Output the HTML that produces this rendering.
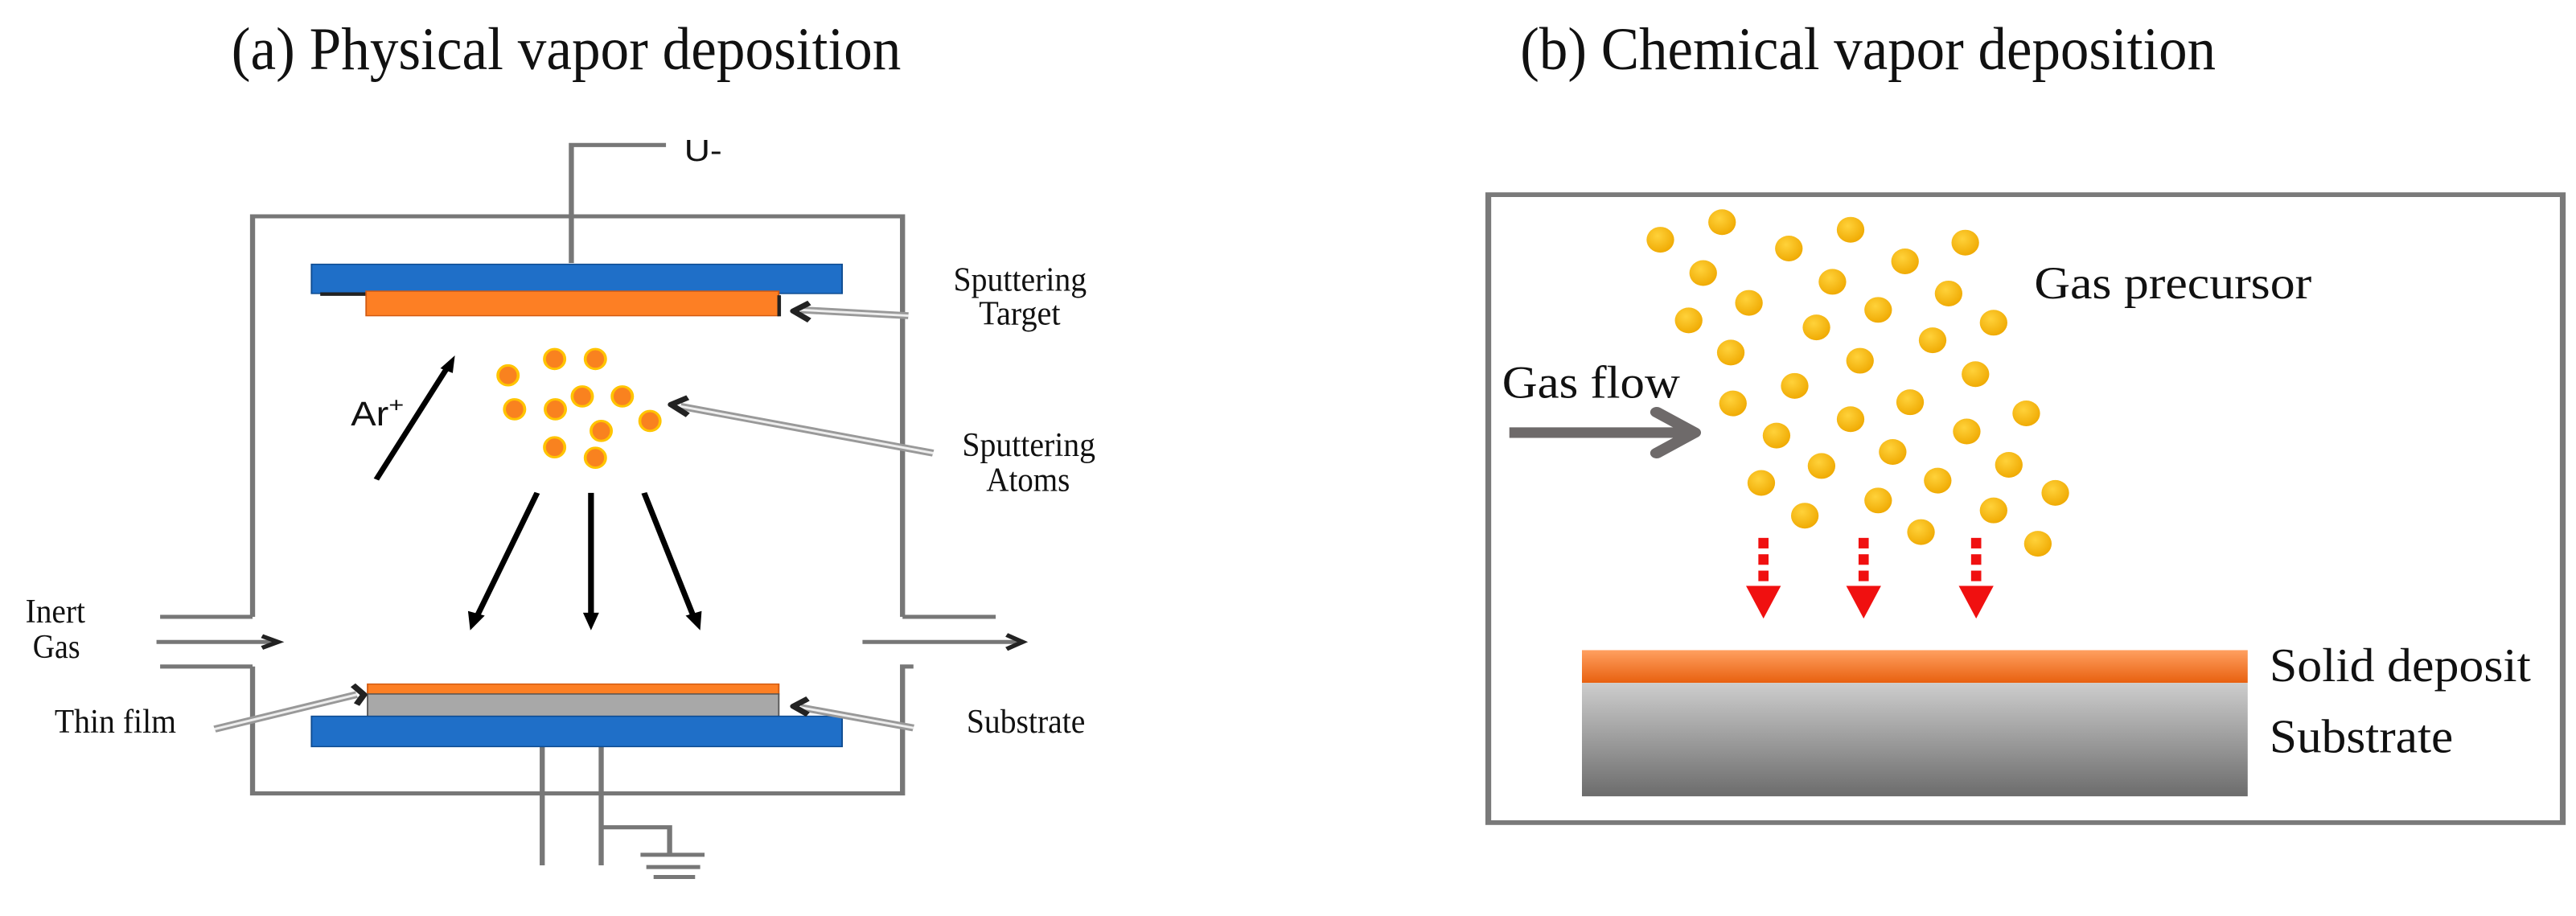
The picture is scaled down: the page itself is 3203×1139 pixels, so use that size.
<!DOCTYPE html>
<html><head><meta charset="utf-8"><style>
html,body{margin:0;padding:0;background:#fff;}
svg{display:block;}
.serif{font-family:"Liberation Serif",serif;fill:#111;}
.sans{font-family:"Liberation Sans",sans-serif;fill:#111;}
</style></head><body>
<svg width="3203" height="1139" viewBox="0 0 3203 1139" xmlns="http://www.w3.org/2000/svg">
<defs>
<linearGradient id="og" x1="0" y1="0" x2="0" y2="1"><stop offset="0" stop-color="#ffa060"/><stop offset="1" stop-color="#e8600f"/></linearGradient>
<linearGradient id="gg" x1="0" y1="0" x2="0" y2="1"><stop offset="0" stop-color="#cdcdcd"/><stop offset="1" stop-color="#6c6c6c"/></linearGradient>
<radialGradient id="yg" cx="0.4" cy="0.35" r="0.7"><stop offset="0" stop-color="#ffd23a"/><stop offset="1" stop-color="#efa800"/></radialGradient>
</defs>
<rect width="3203" height="1139" fill="#fff"/>

<g transform="scale(0.905,0.727)">
<text class="serif" x="318" y="118" font-size="104" textLength="920" lengthAdjust="spacingAndGlyphs">(a) Physical  vapor  deposition</text>
<g fill="none" stroke="#777" stroke-width="7">
<polyline points="347,1055 347,370 1240,370 1240,1055"/>
<polyline points="347,1140 347,1357 1240,1357 1240,1140 1255,1140"/>
<line x1="220" y1="1055" x2="347" y2="1055"/>
<line x1="220" y1="1140" x2="347" y2="1140"/>
<line x1="1240" y1="1055" x2="1368" y2="1055"/>
<line x1="215" y1="1098" x2="378" y2="1098"/>
<line x1="1185" y1="1098" x2="1400" y2="1098"/>
<polyline points="785,450 785,248 915,248"/>
<line x1="745" y1="1277" x2="745" y2="1480"/>
<polyline points="826,1277 826,1480"/>
<polyline points="826,1415 920,1415 920,1460"/>
<line x1="880" y1="1462" x2="968" y2="1462"/>
<line x1="888" y1="1483" x2="962" y2="1483"/>
<line x1="898" y1="1500" x2="955" y2="1500"/>
</g>
<g fill="none" stroke="#222" stroke-width="7">
<polyline points="360,1088 382,1098 360,1108"/>
<polyline points="1383,1086 1405,1098 1383,1110"/>
</g>
<text class="sans" x="940" y="275" font-size="52" textLength="52" lengthAdjust="spacingAndGlyphs">U-</text>
<rect x="428" y="452" width="729" height="50" fill="#1f6fc8" stroke="#0d4a8f" stroke-width="2"/>
<rect x="440" y="500" width="630" height="6" fill="#222"/>
<rect x="503" y="498" width="567" height="42" fill="#fd7f24" stroke="#d25a10" stroke-width="2"/>
<rect x="1068" y="505" width="5" height="36" fill="#222"/>
<rect x="505" y="1170" width="565" height="17" fill="#fd7f24" stroke="#d25a10" stroke-width="2"/>
<rect x="505" y="1187" width="565" height="43" fill="#a8a8a8" stroke="#555" stroke-width="2"/>
<rect x="428" y="1225" width="729" height="52" fill="#1f6fc8" stroke="#0d4a8f" stroke-width="2"/>
<line x1="517" y1="820" x2="618" y2="622" stroke="#000" stroke-width="8"/>
<polygon points="625,608 605,630 622,638" fill="#000"/>
<text class="sans" x="482" y="728" font-size="58" textLength="52" lengthAdjust="spacingAndGlyphs">Ar</text>
<text class="sans" x="534" y="705" font-size="36">+</text>
<g fill="#f9821f" stroke="#ffc400" stroke-width="4">
<ellipse cx="698" cy="642" rx="14" ry="17"/><ellipse cx="762" cy="614" rx="14" ry="17"/><ellipse cx="818" cy="614" rx="14" ry="17"/>
<ellipse cx="707" cy="700" rx="14" ry="17"/><ellipse cx="763" cy="700" rx="14" ry="17"/><ellipse cx="800" cy="678" rx="14" ry="17"/>
<ellipse cx="855" cy="678" rx="14" ry="17"/><ellipse cx="893" cy="720" rx="14" ry="17"/><ellipse cx="826" cy="737" rx="14" ry="17"/>
<ellipse cx="762" cy="765" rx="14" ry="17"/><ellipse cx="818" cy="783" rx="14" ry="17"/>
</g>
<g stroke="#000" stroke-width="8">
<line x1="738" y1="843" x2="655" y2="1055"/>
<line x1="812" y1="843" x2="812" y2="1055"/>
<line x1="885" y1="843" x2="953" y2="1055"/>
</g>
<g fill="#000">
<polygon points="646,1078 643,1045 666,1053"/>
<polygon points="812,1078 801,1048 823,1048"/>
<polygon points="962,1078 942,1053 964,1045"/>
</g>
<g stroke="#999" stroke-width="12" fill="none"><line x1="1248" y1="540" x2="1100" y2="530"/><line x1="1282" y1="775" x2="935" y2="695"/><line x1="1255" y1="1245" x2="1100" y2="1210"/><line x1="295" y1="1247" x2="490" y2="1188"/></g>
<g stroke="#eee" stroke-width="4" fill="none"><line x1="1248" y1="540" x2="1100" y2="530"/><line x1="1282" y1="775" x2="935" y2="695"/><line x1="1255" y1="1245" x2="1100" y2="1210"/><line x1="295" y1="1247" x2="490" y2="1188"/></g>
<g stroke="#222" stroke-width="9" fill="none" stroke-linejoin="round">
<polyline points="1112,518 1090,532 1112,548"/>
<polyline points="945,680 922,692 945,710"/>
<polyline points="1110,1195 1090,1208 1110,1222"/>
<polyline points="485,1172 500,1188 490,1205"/>
</g>
<g class="serif" font-size="58">
<text x="1310" y="497" textLength="183" lengthAdjust="spacingAndGlyphs">Sputtering</text>
<text x="1345" y="555" textLength="112" lengthAdjust="spacingAndGlyphs">Target</text>
<text x="1322" y="780" textLength="183" lengthAdjust="spacingAndGlyphs">Sputtering</text>
<text x="1355" y="840" textLength="115" lengthAdjust="spacingAndGlyphs">Atoms</text>
<text x="35" y="1065" textLength="82" lengthAdjust="spacingAndGlyphs">Inert</text>
<text x="45" y="1125" textLength="65" lengthAdjust="spacingAndGlyphs">Gas</text>
<text x="75" y="1253" textLength="167" lengthAdjust="spacingAndGlyphs">Thin film</text>
<text x="1328" y="1253" textLength="163" lengthAdjust="spacingAndGlyphs">Substrate</text>
</g>
</g>

<g transform="translate(1800,0) scale(0.9027,0.727)">
<text class="serif" x="100" y="118" font-size="104" textLength="958" lengthAdjust="spacingAndGlyphs">(b) Chemical  vapor  deposition</text>
<rect x="56" y="333" width="1480" height="1074" fill="#fff" stroke="#7a7a7a" stroke-width="8"/>
<g fill="url(#yg)">
<ellipse cx="293" cy="410" rx="19" ry="22"/><ellipse cx="378" cy="380" rx="19" ry="22"/><ellipse cx="470" cy="425" rx="19" ry="22"/>
<ellipse cx="555" cy="393" rx="19" ry="22"/><ellipse cx="630" cy="447" rx="19" ry="22"/><ellipse cx="713" cy="415" rx="19" ry="22"/>
<ellipse cx="352" cy="467" rx="19" ry="22"/><ellipse cx="530" cy="482" rx="19" ry="22"/><ellipse cx="690" cy="502" rx="19" ry="22"/>
<ellipse cx="415" cy="518" rx="19" ry="22"/><ellipse cx="593" cy="530" rx="19" ry="22"/><ellipse cx="332" cy="548" rx="19" ry="22"/>
<ellipse cx="508" cy="560" rx="19" ry="22"/><ellipse cx="752" cy="552" rx="19" ry="22"/><ellipse cx="668" cy="582" rx="19" ry="22"/>
<ellipse cx="390" cy="603" rx="19" ry="22"/><ellipse cx="568" cy="617" rx="19" ry="22"/><ellipse cx="727" cy="640" rx="19" ry="22"/>
<ellipse cx="478" cy="660" rx="19" ry="22"/><ellipse cx="393" cy="690" rx="19" ry="22"/><ellipse cx="637" cy="688" rx="19" ry="22"/>
<ellipse cx="797" cy="707" rx="19" ry="22"/><ellipse cx="555" cy="717" rx="19" ry="22"/><ellipse cx="453" cy="745" rx="19" ry="22"/>
<ellipse cx="715" cy="738" rx="19" ry="22"/><ellipse cx="613" cy="773" rx="19" ry="22"/><ellipse cx="515" cy="797" rx="19" ry="22"/>
<ellipse cx="773" cy="795" rx="19" ry="22"/><ellipse cx="432" cy="826" rx="19" ry="22"/><ellipse cx="675" cy="822" rx="19" ry="22"/>
<ellipse cx="837" cy="843" rx="19" ry="22"/><ellipse cx="593" cy="856" rx="19" ry="22"/><ellipse cx="752" cy="873" rx="19" ry="22"/>
<ellipse cx="492" cy="882" rx="19" ry="22"/><ellipse cx="652" cy="910" rx="19" ry="22"/><ellipse cx="813" cy="930" rx="19" ry="22"/>
</g>
<text class="serif" x="808" y="510" font-size="78" textLength="382" lengthAdjust="spacingAndGlyphs">Gas precursor</text>
<text class="serif" x="75" y="680" font-size="78" textLength="245" lengthAdjust="spacingAndGlyphs">Gas flow</text>
<line x1="85" y1="740" x2="330" y2="740" stroke="#6e6a6a" stroke-width="18"/>
<polyline points="288,705 340,740 288,775" fill="none" stroke="#6e6a6a" stroke-width="18" stroke-linecap="round" stroke-linejoin="round"/>
<g fill="#f01010">
<g transform="translate(435,0)"><rect x="-7" y="920" width="14" height="18"/><rect x="-7" y="948" width="14" height="18"/><rect x="-7" y="976" width="14" height="18"/><polygon points="-24,1002 24,1002 0,1058"/></g>
<g transform="translate(573,0)"><rect x="-7" y="920" width="14" height="18"/><rect x="-7" y="948" width="14" height="18"/><rect x="-7" y="976" width="14" height="18"/><polygon points="-24,1002 24,1002 0,1058"/></g>
<g transform="translate(728,0)"><rect x="-7" y="920" width="14" height="18"/><rect x="-7" y="948" width="14" height="18"/><rect x="-7" y="976" width="14" height="18"/><polygon points="-24,1002 24,1002 0,1058"/></g>
</g>
<rect x="185" y="1112" width="917" height="56" fill="url(#og)"/>
<rect x="185" y="1168" width="917" height="194" fill="url(#gg)"/>
<text class="serif" x="1132" y="1165" font-size="82" textLength="360" lengthAdjust="spacingAndGlyphs">Solid deposit</text>
<text class="serif" x="1132" y="1287" font-size="82" textLength="253" lengthAdjust="spacingAndGlyphs">Substrate</text>
</g>
</svg>
</body></html>
